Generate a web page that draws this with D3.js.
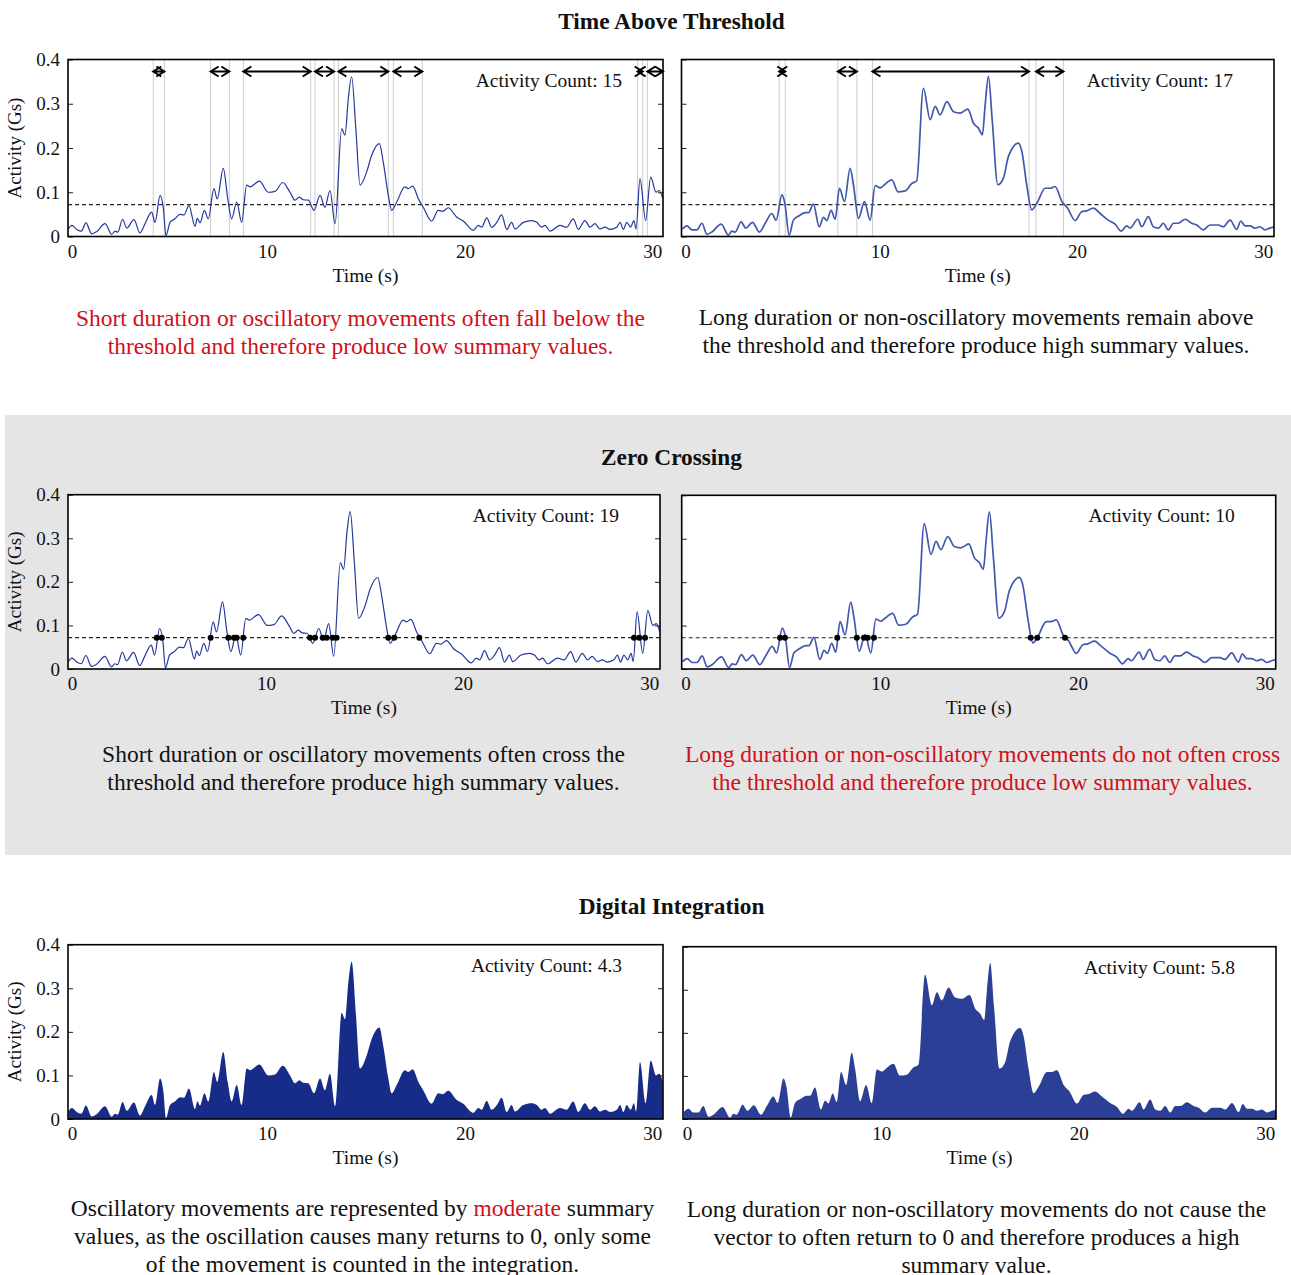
<!DOCTYPE html>
<html><head><meta charset="utf-8">
<script src="https://cdn.jsdelivr.net/npm/d3@7"></script>
<style>
body{margin:0;background:#fff}
svg{display:block}
text{font-family:"Liberation Serif","Times New Roman",serif;fill:#111}
</style>
</head><body>
<svg id="c" width="1291" height="1275"></svg>
<script>
// ---------------- DATA ----------------
// Oscillatory movement (left column), time in s, activity in Gs
const timeA = [-0.18,0.00,0.25,0.48,0.72,1.01,1.27,1.70,2.04,2.21,2.35,2.60,2.81,3.18,3.49,3.75,4.09,4.26,4.52,4.69,4.82,5.03,5.28,5.54,5.75,6.00,6.31,6.43,6.57,6.79,6.99,7.28,7.45,7.76,7.99,8.19,8.45,8.70,8.96,9.13,9.61,10.07,10.41,10.81,11.18,11.44,11.66,11.86,12.12,12.41,12.72,12.97,13.23,13.49,13.83,14.00,14.17,14.34,14.56,14.77,15.11,15.37,15.76,15.96,16.22,16.39,16.65,17.07,17.24,17.47,17.76,18.01,18.44,18.78,19.01,19.29,19.72,20.06,20.58,20.83,21.01,21.26,21.52,21.78,22.03,22.29,22.54,22.71,23.14,23.57,23.83,24.08,24.25,24.51,25.02,25.36,25.70,25.96,26.30,26.56,26.81,27.07,27.33,27.58,27.93,28.10,28.27,28.44,28.64,28.81,28.92,29.12,29.41,29.67,29.94,30.11,30.29];
const activityA = [0.017,0.025,0.016,0.012,0.031,0.006,0.011,0.029,0.005,0.012,0.010,0.039,0.019,0.038,0.008,0.029,0.055,0.032,0.093,0.063,0.002,0.032,0.040,0.050,0.049,0.070,0.023,0.041,0.031,0.059,0.040,0.108,0.085,0.154,0.085,0.040,0.078,0.032,0.116,0.112,0.125,0.100,0.102,0.122,0.100,0.082,0.089,0.083,0.082,0.059,0.093,0.066,0.104,0.029,0.244,0.229,0.313,0.361,0.240,0.116,0.146,0.184,0.210,0.168,0.093,0.059,0.078,0.112,0.108,0.114,0.085,0.066,0.035,0.059,0.057,0.065,0.044,0.035,0.014,0.025,0.021,0.042,0.021,0.032,0.049,0.016,0.032,0.017,0.032,0.036,0.032,0.021,0.025,0.012,0.025,0.021,0.040,0.016,0.036,0.021,0.029,0.017,0.021,0.016,0.021,0.032,0.016,0.032,0.021,0.036,0.017,0.131,0.036,0.134,0.100,0.104,0.085];

// Long duration movement (right column)
const timeB = [-0.15,0.08,0.34,0.59,0.85,1.11,1.36,1.84,2.22,2.39,2.56,2.87,3.11,3.45,3.81,4.11,4.45,4.67,4.97,5.12,5.34,5.56,5.86,6.17,6.34,6.59,6.89,7.11,7.28,7.50,7.71,7.93,8.19,8.48,8.65,8.91,9.22,9.51,9.77,10.03,10.19,10.63,10.94,11.31,11.66,11.91,12.25,12.60,12.86,13.11,13.46,13.80,14.14,14.54,14.83,15.08,15.29,15.43,15.60,15.80,16.08,16.37,16.63,17.14,17.32,17.57,17.83,18.09,18.52,18.77,19.03,19.38,19.68,20.06,20.40,20.66,21.00,21.35,21.77,22.12,22.43,22.72,22.89,23.29,23.49,23.83,24.09,24.35,24.60,24.86,25.12,25.38,25.72,26.06,26.32,26.66,27.01,27.43,27.69,28.04,28.38,28.59,28.81,29.07,29.32,29.58,29.84,30.09,30.30];
const activityB = [0.017,0.024,0.015,0.015,0.030,0.005,0.010,0.028,0.003,0.012,0.010,0.033,0.019,0.032,0.010,0.030,0.052,0.037,0.094,0.075,0.003,0.037,0.047,0.054,0.054,0.073,0.022,0.043,0.036,0.059,0.039,0.109,0.079,0.154,0.117,0.041,0.079,0.037,0.115,0.110,0.115,0.128,0.101,0.103,0.120,0.126,0.335,0.264,0.294,0.275,0.305,0.282,0.279,0.288,0.256,0.245,0.230,0.297,0.362,0.260,0.117,0.132,0.181,0.211,0.192,0.117,0.060,0.075,0.109,0.109,0.113,0.079,0.064,0.036,0.056,0.058,0.064,0.052,0.037,0.028,0.012,0.024,0.019,0.039,0.022,0.045,0.022,0.019,0.030,0.015,0.030,0.030,0.039,0.030,0.026,0.015,0.026,0.026,0.022,0.037,0.016,0.035,0.024,0.024,0.019,0.022,0.015,0.019,0.022];

const threshold = 0.072;

// Time-above-threshold intervals (start, end) in s
const aboveStartA = [4.17,7.11,8.79,12.46,13.66,16.48,29.00,29.50];
const aboveEndA   = [4.74,8.07,12.24,13.44,16.22,17.96,29.26,30.30];
const aboveStartB = [4.83,7.85,9.63,18.05];
const aboveEndB   = [5.14,8.83,17.69,19.46];

// Threshold crossings (zero crossing method)
const crossingsA = [4.37,4.63,7.15,8.06,8.35,8.49,8.83,12.27,12.53,12.92,13.13,13.44,13.64,16.30,16.61,17.90,28.96,29.23,29.53];
const crossingsB = [4.85,5.10,7.79,8.79,9.16,9.35,9.67,17.72,18.06,19.48];

const countsThreshold = ["15","17"];
const countsCrossing  = ["19","10"];
const countsIntegration = ["4.3","5.8"];

const xTicks = [0,10,20,30];
const yTicks = [0,0.1,0.2,0.3,0.4];
const yTickLabels = ["0","0.1","0.2","0.3","0.4"];

const sectionTitles = ["Time Above Threshold","Zero Crossing","Digital Integration"];
const RED = "#d0101a";
const captions = [
  [[["Short duration or oscillatory movements often fall below the",RED]],[["threshold and therefore produce low summary values.",RED]]],
  [[["Long duration or non-oscillatory movements remain above",null]],[["the threshold and therefore produce high summary values.",null]]],
  [[["Short duration or oscillatory movements often cross the",null]],[["threshold and therefore produce high summary values.",null]]],
  [[["Long duration or non-oscillatory movements do not often cross",RED]],[["the threshold and therefore produce low summary values.",RED]]],
  [[["Oscillatory movements are represented by ",null],["moderate",RED],[" summary",null]],[["values, as the oscillation causes many returns to 0, only some",null]],[["of the movement is counted in the integration.",null]]],
  [[["Long duration or non-oscillatory movements do not cause the",null]],[["vector to often return to 0 and therefore produces a high",null]],[["summary value.",null]]]
];

// ---------------- DRAW ----------------
const svg = d3.select('#c');
svg.append('rect').attr('x',5).attr('y',415).attr('width',1286).attr('height',440).attr('fill','#e5e5e5');

const A = timeA.map((t,i)=>({t, v:activityA[i]}));
const B = timeB.map((t,i)=>({t, v:activityB[i]}));

const panels = [
  {box:[68,59.5,663,236.5], data:A, mode:'threshold', left:true, count:countsThreshold[0], starts:aboveStartA, ends:aboveEndA, color:'#24399b', sw:1.2},
  {box:[681.5,59.5,1274,236.5], data:B, mode:'threshold', left:false, count:countsThreshold[1], starts:aboveStartB, ends:aboveEndB, color:'#4058ad', sw:1.7},
  {box:[68,494.7,660,669], data:A, mode:'crossing', left:true, count:countsCrossing[0], cross:crossingsA, color:'#24399b', sw:1.2},
  {box:[681.7,495.3,1275.7,669], data:B, mode:'crossing', left:false, count:countsCrossing[1], cross:crossingsB, color:'#4058ad', sw:1.7},
  {box:[68,944.7,663,1119], data:A, mode:'area', left:true, count:countsIntegration[0], color:'#172c88'},
  {box:[683,946.7,1276,1119], data:B, mode:'area', left:false, count:countsIntegration[1], color:'#2b3f97'}
];
// small label nudges seen in the reference rendering (px)
const xLabelNudge = [0,0,3,-5];

panels.forEach((p,i)=>{
  const [x0,y0,x1,y1] = p.box;
  const x = d3.scaleLinear().domain([-0.2,30.3]).range([x0,x1]);
  const y = d3.scaleLinear().domain([0,0.4]).range([y1,y0]);
  const g = svg.append('g');
  g.append('rect').attr('x',x0).attr('y',y0).attr('width',x1-x0).attr('height',y1-y0).attr('fill','#fff');
  const cid = 'clip'+i;
  g.append('clipPath').attr('id',cid).append('rect').attr('x',x0).attr('y',y0).attr('width',x1-x0).attr('height',y1-y0);
  const pg = g.append('g').attr('clip-path',`url(#${cid})`);

  if (p.mode === 'threshold') {
    const ends = p.starts.concat(p.ends).filter(t=>t<30.25);
    pg.selectAll('line.v').data(ends).enter().append('line')
      .attr('x1',d=>x(d)).attr('x2',d=>x(d)).attr('y1',y0).attr('y2',y1)
      .attr('stroke','#9a9a9a').attr('stroke-width',1).attr('stroke-dasharray','1,1');
  }
  if (p.mode === 'area') {
    pg.append('path').datum(p.data)
      .attr('d', d3.area().x(d=>x(d.t)).y0(y(0)).y1(d=>y(d.v)).curve(d3.curveMonotoneX))
      .attr('fill',p.color);
  } else {
    pg.append('line').attr('x1',x0).attr('x2',x1).attr('y1',y(threshold)).attr('y2',y(threshold))
      .attr('stroke','#222').attr('stroke-width',1.1).attr('stroke-dasharray','4,3');
    pg.append('path').datum(p.data)
      .attr('d', d3.line().x(d=>x(d.t)).y(d=>y(d.v)).curve(d3.curveMonotoneX))
      .attr('fill','none').attr('stroke',p.color).attr('stroke-width',p.sw);
  }
  if (p.mode === 'crossing') {
    pg.selectAll('circle').data(p.cross).enter().append('circle')
      .attr('cx',d=>x(d)).attr('cy',y(threshold)).attr('r',3).attr('fill','#000');
  }
  if (p.mode === 'threshold') {
    const ay = y0 + 12, h = 8, w = 5;
    const iv = p.starts.map((s,k)=>[s,p.ends[k]]);
    g.selectAll('path.arr').data(iv).enter().append('path')
      .attr('d', d=>{const a=x(d[0]), b=x(d[1]);
        return `M${a},${ay}L${b},${ay}M${a+h},${ay-w}L${a},${ay}L${a+h},${ay+w}M${b-h},${ay-w}L${b},${ay}L${b-h},${ay+w}`;})
      .attr('fill','none').attr('stroke','#000').attr('stroke-width',2);
  }

  // axes
  const ya = g.append('g').attr('transform',`translate(${x0},0)`)
    .call(d3.axisLeft(y).tickValues(yTicks).tickSize(-5).tickPadding(8)
      .tickFormat((d,k)=> p.left ? yTickLabels[k] : ''));
  ya.select('.domain').remove();
  ya.selectAll('text').attr('font-size',19).attr('font-family','"Liberation Serif",serif').attr('fill','#111');
  ya.selectAll('line').attr('stroke','#222');
  if (p.left) {
    const yr = g.append('g').attr('transform',`translate(${x1},0)`)
      .call(d3.axisRight(y).tickValues(yTicks.slice(1,4)).tickSize(-5).tickFormat(''));
    yr.select('.domain').remove();
    yr.selectAll('line').attr('stroke','#222');
  }
  const xa = g.append('g').attr('transform',`translate(0,${y1})`)
    .call(d3.axisBottom(x).tickValues(xTicks).tickSize(0).tickPadding(8));
  xa.select('.domain').remove();
  xa.selectAll('text').attr('font-size',19).attr('font-family','"Liberation Serif",serif').attr('fill','#111')
    .attr('dx',(d,k)=>xLabelNudge[k]);

  g.append('rect').attr('x',x0).attr('y',y0).attr('width',x1-x0).attr('height',y1-y0)
    .attr('fill','none').attr('stroke','#000').attr('stroke-width',1.6);

  g.append('text').attr('x',(x0+x1)/2).attr('y',y1+45).attr('text-anchor','middle')
    .attr('font-size',19.5).text('Time (s)');
  g.append('text').attr('x',x1-41).attr('y',y0+27).attr('text-anchor','end')
    .attr('font-size',19.5).text('Activity Count: '+p.count);
  if (p.left) {
    g.append('text').attr('transform',`translate(21,${(y0+y1)/2}) rotate(-90)`).attr('text-anchor','middle')
      .attr('font-size',19).text('Activity (Gs)');
  }
});

// titles
const titleY = [29,465,914];
sectionTitles.forEach((t,i)=>{
  svg.append('text').attr('x',671.5).attr('y',titleY[i]).attr('text-anchor','middle')
    .attr('font-size',23.3).attr('font-weight','bold').text(t);
});

// captions
const capPos = [[360.5,326],[976,325],[363.5,762],[982.5,762],[362.5,1216],[976.5,1217]];
captions.forEach((lines,i)=>{
  const [cx,cy] = capPos[i];
  lines.forEach((segs,k)=>{
    const t = svg.append('text').attr('x',cx).attr('y',cy+k*28).attr('text-anchor','middle').attr('font-size',23.5);
    segs.forEach(s=>{
      const ts = t.append('tspan').text(s[0]);
      ts.attr('fill', s[1] ? s[1] : '#111');
    });
  });
});
</script>
</body></html>
